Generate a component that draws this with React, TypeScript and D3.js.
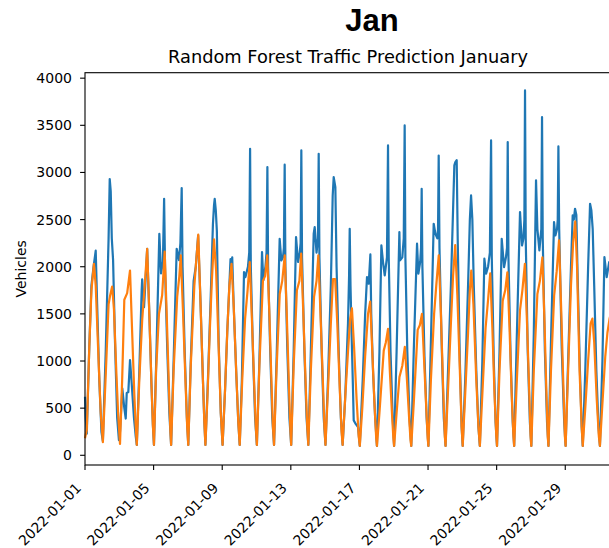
import React from 'react';
import * as d3 from 'd3';

// [day of January (0-based), hour, vehicles]
const actualPoints: [number, number, number][] = [
  [0, 0, 620], [0, 1, 400], [0, 2.5, 230], [0, 6, 1150], [0, 9, 1800], [0, 12, 2000], [0, 15, 2170], [0, 17, 1600], [0, 20, 800], [0, 23, 250],
  [1, 1, 150], [1, 5, 1100], [1, 9, 2300], [1, 10.6, 2930], [1, 12, 2800], [1, 13.5, 2300], [1, 15.3, 2070], [1, 18, 1200], [1, 21, 400], [1, 23.5, 160],
  [2, 1, 250], [2, 4.2, 710], [2, 7, 500], [2, 9, 390], [2, 10.4, 660], [2, 12.6, 670], [2, 15, 1010], [2, 17, 800], [2, 20.5, 400], [2, 23, 200],
  [3, 0.5, 110], [3, 4, 900], [3, 7.3, 1750], [3, 8, 1866], [3, 10.6, 1570], [3, 13, 1900], [3, 15, 2190], [3, 18, 1500], [3, 21, 750], [3, 23, 320],
  [4, 0.5, 110], [4, 4, 1100], [4, 8, 2350], [4, 10.4, 1930], [4, 13, 2050], [4, 14.7, 2720], [4, 16, 2000], [4, 19, 1150], [4, 22, 450],
  [5, 0.5, 110], [5, 4, 1000], [5, 8.3, 2190], [5, 11.5, 2070], [5, 13.5, 2250], [5, 15.3, 2835], [5, 16.5, 2000], [5, 19.5, 1100], [5, 22.5, 400],
  [6, 0.5, 110], [6, 4, 1000], [6, 8, 1850], [6, 11, 2000], [6, 14.3, 2330], [6, 17.5, 1650], [6, 21, 800], [6, 23, 350],
  [7, 0.5, 110], [7, 4, 800], [7, 8, 1700], [7, 11, 2450], [7, 12.5, 2650], [7, 13.5, 2720], [7, 15, 2600], [7, 16.5, 2380], [7, 19, 1200], [7, 22, 450],
  [8, 0.5, 110], [8, 4, 700], [8, 7, 1300], [8, 10, 1800], [8, 11.6, 2080], [8, 12.5, 2000], [8, 14, 2100], [8, 16, 1600], [8, 19.5, 900], [8, 22.5, 350],
  [9, 0.5, 110], [9, 3.5, 800], [9, 6.5, 1943], [9, 8.5, 1890], [9, 12, 2000], [9, 13.8, 2150], [9, 15, 3250], [9, 16, 2000], [9, 19, 1100], [9, 22, 400],
  [10, 0.5, 110], [10, 4, 1000], [10, 7.7, 2155], [10, 9.5, 1855], [10, 12.5, 2000], [10, 14, 2150], [10, 15.2, 3057], [10, 16.2, 2000], [10, 19, 1150], [10, 22, 400],
  [11, 0.5, 110], [11, 4, 1000], [11, 8.4, 2297], [11, 10.7, 2067], [11, 13, 2100], [11, 14.3, 2200], [11, 15.4, 3082], [11, 16.4, 2000], [11, 19, 1150], [11, 22, 400],
  [12, 0.5, 110], [12, 4, 1100], [12, 7.3, 2315], [12, 10.1, 2050], [12, 12.5, 2150], [12, 13.7, 2250], [12, 14.7, 3234], [12, 15.7, 2100], [12, 19, 1100], [12, 22, 400],
  [13, 0.5, 110], [13, 4, 1100], [13, 8, 2350], [13, 9.4, 2420], [13, 12, 2150], [13, 14, 2300], [13, 15, 3198], [13, 16, 2100], [13, 19, 1150], [13, 22, 400],
  [14, 0.5, 110], [14, 4, 800], [14, 8, 1800], [14, 10.6, 2756], [14, 12, 2951], [14, 14.3, 2845], [14, 16, 2000], [14, 19, 1100], [14, 22, 400],
  [15, 0.5, 110], [15, 4, 600], [15, 8, 1400], [15, 9.5, 1900], [15, 10.4, 2403], [15, 11.5, 1800], [15, 13, 1300], [15, 15, 700], [15, 16, 370], [15, 19, 330], [15, 22, 300],
  [16, 0.5, 100], [16, 4.6, 800], [16, 8, 1500], [16, 10.6, 1890], [16, 13, 1820], [16, 15.3, 2130], [16, 16.5, 1500], [16, 19, 900], [16, 22, 400],
  [17, 0.5, 100], [17, 4, 1100], [17, 6.7, 2226], [17, 9, 2050], [17, 11.4, 1908], [17, 14.5, 2100], [17, 16, 3287], [17, 17, 2100], [17, 19.5, 1100], [17, 22.5, 400],
  [18, 0.5, 100], [18, 4, 1100], [18, 7.9, 2368], [18, 8.8, 2067], [18, 12, 2100], [18, 14, 2300], [18, 15.3, 3499], [18, 16.3, 2100], [18, 19, 1100], [18, 22, 400],
  [19, 0.5, 100], [19, 4, 1100], [19, 8.6, 2244], [19, 10.5, 1926], [19, 13, 2050], [19, 14.2, 2200], [19, 15.1, 2827], [19, 16.1, 2000], [19, 19, 1050], [19, 22, 400],
  [20, 0.5, 100], [20, 4, 1200], [20, 7.9, 2456], [20, 10.3, 2350], [20, 13, 2300], [20, 14, 2400], [20, 14.9, 3180], [20, 16, 2200], [20, 19, 1200], [20, 22, 400],
  [21, 0.5, 100], [21, 4, 900], [21, 8, 1800], [21, 11, 2600], [21, 12.8, 3075], [21, 14.2, 3110], [21, 16.1, 3130], [21, 17.5, 2300], [21, 20.5, 1000], [21, 23, 300],
  [22, 0.5, 100], [22, 4, 800], [22, 8, 1800], [22, 10.5, 2500], [22, 12.2, 2756], [22, 14, 2500], [22, 16, 1800], [22, 19.5, 900], [22, 22.5, 300],
  [23, 0.5, 100], [23, 4, 1000], [23, 6.8, 2085], [23, 9.2, 1926], [23, 12, 2000], [23, 14.5, 2150], [23, 16.2, 3340], [23, 17.2, 2100], [23, 20, 1000], [23, 22.5, 350],
  [24, 0.5, 100], [24, 4, 1100], [24, 7.1, 2297], [24, 10.4, 1996], [24, 13, 2100], [24, 14.5, 2200], [24, 15.5, 3322], [24, 16.5, 2100], [24, 19.5, 1050], [24, 22.5, 350],
  [25, 0.5, 100], [25, 4, 1200], [25, 8.7, 2580], [25, 11.5, 2226], [25, 13.5, 2300], [25, 14.8, 2500], [25, 15.7, 3870], [25, 16.7, 2300], [25, 19.5, 1100], [25, 22.5, 350],
  [26, 0.5, 100], [26, 4, 1300], [26, 7.1, 2916], [26, 9, 2400], [26, 11.8, 2173], [26, 14.5, 2400], [26, 15.5, 3587], [26, 16.5, 2300], [26, 19.5, 1100], [26, 22.5, 350],
  [27, 0.5, 100], [27, 4, 1200], [27, 8.3, 2474], [27, 10.2, 2332], [27, 12.5, 2400], [27, 13.5, 2500], [27, 14.4, 3276], [27, 15.5, 2400], [27, 19, 1150], [27, 22.5, 350],
  [28, 0.5, 100], [28, 4, 1000], [28, 8, 2000], [28, 10.4, 2544], [28, 12, 2500], [28, 13.7, 2615], [28, 15.5, 2550], [28, 17, 2000], [28, 20.5, 900], [28, 23, 300],
  [29, 0.5, 100], [29, 4, 900], [29, 8, 2000], [29, 10.7, 2668], [29, 12.5, 2600], [29, 14.4, 2400], [29, 16.5, 1800], [29, 19.5, 900], [29, 22.5, 300],
  [30, 0.5, 100], [30, 4, 1000], [30, 6.8, 2102], [30, 10, 1890], [30, 13.5, 2050], [30, 15, 2000],
];

const predictedPoints: [number, number, number][] = [
  [0, 0, 180], [0, 2.5, 270], [0, 6, 1150], [0, 9, 1750], [0, 12.5, 2030], [0, 15, 1800], [0, 19, 1000], [0, 22, 450],
  [1, 1, 140], [1, 5, 850], [1, 9, 1600], [1, 11, 1690], [1, 14, 1790], [1, 16.5, 1550], [1, 20, 850], [1, 22.5, 420],
  [2, 1, 120], [2, 4, 800], [2, 7, 1650], [2, 11, 1720], [2, 15, 1960], [2, 18, 1300], [2, 21, 650], [2, 23, 300],
  [3, 0.5, 110], [3, 4, 800], [3, 8, 1430], [3, 12, 1850], [3, 15, 2190], [3, 18, 1500], [3, 21, 750], [3, 23, 320],
  [4, 0.5, 110], [4, 3.5, 900], [4, 7.5, 1500], [4, 12, 1700], [4, 15.5, 2160], [4, 18.5, 1450], [4, 21.5, 700], [4, 23.5, 250],
  [5, 0.5, 110], [5, 4, 900], [5, 9, 1680], [5, 12, 1900], [5, 14, 2120], [5, 17, 1550], [5, 20.5, 800], [5, 23, 300],
  [6, 0.5, 110], [6, 4, 950], [6, 9, 1800], [6, 12, 2100], [6, 14.5, 2340], [6, 17.5, 1650], [6, 21, 800], [6, 23, 350],
  [7, 0.5, 110], [7, 3.5, 650], [7, 6.5, 1300], [7, 9.5, 1850], [7, 12.5, 2290], [7, 15.5, 1950], [7, 19, 1150], [7, 22, 450],
  [8, 0.5, 110], [8, 4, 700], [8, 7, 1300], [8, 10, 1800], [8, 13, 2030], [8, 16, 1600], [8, 19.5, 900], [8, 22.5, 350],
  [9, 0.5, 110], [9, 4, 800], [9, 8, 1450], [9, 11.5, 1750], [9, 14.5, 2050], [9, 17.5, 1450], [9, 21, 700], [9, 23, 300],
  [10, 0.5, 110], [10, 4, 950], [10, 9, 1850], [10, 12, 1900], [10, 15, 2120], [10, 18, 1500], [10, 21, 750], [10, 23, 300],
  [11, 0.5, 110], [11, 4, 900], [11, 8.5, 1710], [11, 12, 1850], [11, 15.5, 2120], [11, 18.5, 1450], [11, 21.5, 700], [11, 23.5, 250],
  [12, 0.5, 110], [12, 4, 950], [12, 8.5, 1750], [12, 12, 1850], [12, 14.5, 2140], [12, 17.5, 1500], [12, 21, 700], [12, 23, 300],
  [13, 0.5, 110], [13, 4, 900], [13, 8.5, 1680], [13, 12, 1850], [13, 14.5, 2120], [13, 17.5, 1500], [13, 21, 750], [13, 23, 300],
  [14, 0.5, 110], [14, 4, 700], [14, 8, 1400], [14, 11, 1870], [14, 14, 1870], [14, 17, 1400], [14, 20.5, 700], [14, 23, 250],
  [15, 0.5, 110], [15, 4, 600], [15, 8, 1100], [15, 11, 1450], [15, 13.5, 1560], [15, 16.5, 1150], [15, 20, 600], [15, 23, 200],
  [16, 0.5, 100], [16, 4, 500], [16, 8, 1050], [16, 12, 1500], [16, 15, 1630], [16, 18, 1100], [16, 21, 550], [16, 23.5, 180],
  [17, 0.5, 100], [17, 4, 450], [17, 10, 1110], [17, 13, 1200], [17, 16, 1340], [17, 18.5, 900], [17, 21.5, 450], [17, 23.5, 180],
  [18, 0.5, 100], [18, 4, 450], [18, 8, 830], [18, 12, 950], [18, 15.5, 1150], [18, 18.5, 800], [18, 21.5, 400], [18, 23.5, 160],
  [19, 0.5, 100], [19, 4, 550], [19, 9.5, 1330], [19, 12.5, 1380], [19, 15.5, 1500], [19, 18.5, 1000], [19, 21.5, 500], [19, 23.5, 180],
  [20, 0.5, 100], [20, 4, 800], [20, 8.5, 1500], [20, 11.5, 1800], [20, 15, 2120], [20, 18, 1500], [20, 21, 750], [20, 23.5, 200],
  [21, 0.5, 100], [21, 4, 700], [21, 8, 1400], [21, 11, 1900], [21, 14, 2230], [21, 17, 1700], [21, 20.5, 900], [21, 23, 300],
  [22, 0.5, 100], [22, 4, 650], [22, 8, 1300], [22, 10.5, 1750], [22, 12.5, 1960], [22, 15.5, 1600], [22, 19.5, 800], [22, 22.5, 300],
  [23, 0.5, 100], [23, 4, 650], [23, 8.5, 1350], [23, 12, 1650], [23, 15, 1930], [23, 18, 1350], [23, 21, 650], [23, 23.5, 200],
  [24, 0.5, 100], [24, 4, 900], [24, 8.5, 1640], [24, 12, 1750], [24, 15, 1940], [24, 18, 1350], [24, 21, 650], [24, 23.5, 200],
  [25, 0.5, 100], [25, 4, 750], [25, 8.7, 1540], [25, 12, 1750], [25, 15.5, 2030], [25, 18.5, 1400], [25, 21.5, 700], [25, 23.5, 200],
  [26, 0.5, 100], [26, 4, 900], [26, 9, 1710], [26, 12.5, 1850], [26, 16, 2100], [26, 19, 1400], [26, 21.5, 700], [26, 23.5, 200],
  [27, 0.5, 100], [27, 4, 900], [27, 8.5, 1700], [27, 12, 1950], [27, 15.3, 2280], [27, 18.5, 1500], [27, 21.5, 700], [27, 23.5, 200],
  [28, 0.5, 100], [28, 4, 900], [28, 8, 1800], [28, 11, 2250], [28, 14, 2480], [28, 16.5, 2000], [28, 20, 900], [28, 23, 300],
  [29, 0.5, 100], [29, 4, 500], [29, 8, 1000], [29, 11.5, 1400], [29, 14, 1450], [29, 16.5, 1200], [29, 20, 600], [29, 23, 200],
  [30, 0.5, 100], [30, 4, 550], [30, 8, 1050], [30, 11, 1300], [30, 14, 1450], [30, 15, 1480],
];

const yTicks = [0, 500, 1000, 1500, 2000, 2500, 3000, 3500, 4000];
const xTickDays = [1, 5, 9, 13, 17, 21, 25, 29];

const W = 609;
const H = 548;
const plot = { left: 85, right: 616, top: 72.7, bottom: 465 };

const toDate = (d: number, h: number) => new Date(Date.UTC(2022, 0, 1 + d) + h * 3600e3);

export default function App() {
  const x = d3.scaleUtc()
    .domain([toDate(0, 0), toDate(30, 23)])
    .range([plot.left, plot.right]);
  const y = d3.scaleLinear().domain([-103, 4058]).range([plot.bottom, plot.top]);

  const line = d3.line<[number, number, number]>()
    .x(p => x(toDate(p[0], p[1])))
    .y(p => y(p[2]));

  const fmt = d3.utcFormat('%Y-%m-%d');
  const font = '"DejaVu Sans", sans-serif';

  return (
    <svg width={W} height={H} style={{ position: 'absolute', left: 0, top: 0, background: '#fff' }}>
      <rect width={W} height={H} fill="#fff" />
      <text x={372} y={31} textAnchor="middle" fontFamily='"Liberation Sans", Arial, sans-serif'
        fontWeight="bold" fontSize={31} fill="#000">Jan</text>
      <text x={348} y={63} textAnchor="middle" fontFamily={font}
        fontSize={17.8} fill="#000">Random Forest Traffic Prediction January</text>

      <path d={line(actualPoints) ?? ''} fill="none" stroke="#1f77b4" strokeWidth={2.2} strokeLinejoin="round" />
      <path d={line(predictedPoints) ?? ''} fill="none" stroke="#ff7f0e" strokeWidth={2.2} strokeLinejoin="round" />

      <rect x={plot.left} y={plot.top} width={plot.right - plot.left} height={plot.bottom - plot.top}
        fill="none" stroke="#000" strokeWidth={1.1} />

      {yTicks.map(t => (
        <g key={t}>
          <line x1={plot.left - 4.9} x2={plot.left} y1={y(t)} y2={y(t)} stroke="#000" strokeWidth={1.1} />
          <text x={plot.left - 13} y={y(t)} dy="0.36em" textAnchor="end" fontFamily={font} fontSize={14} fill="#000">{t}</text>
        </g>
      ))}
      {xTickDays.map(d => {
        const tx = x(toDate(d - 1, 0));
        return (
          <g key={d}>
            <line x1={tx} x2={tx} y1={plot.bottom} y2={plot.bottom + 4.9} stroke="#000" strokeWidth={1.1} />
            <text transform={`translate(${tx - 3},${plot.bottom + 24}) rotate(-45)`} textAnchor="end"
              fontFamily={font} fontSize={14} fill="#000">{fmt(toDate(d - 1, 0))}</text>
          </g>
        );
      })}
      <text transform={`translate(26,${(plot.top + plot.bottom) / 2}) rotate(-90)`} textAnchor="middle"
        fontFamily={font} fontSize={14} fill="#000">Vehicles</text>
    </svg>
  );
}
